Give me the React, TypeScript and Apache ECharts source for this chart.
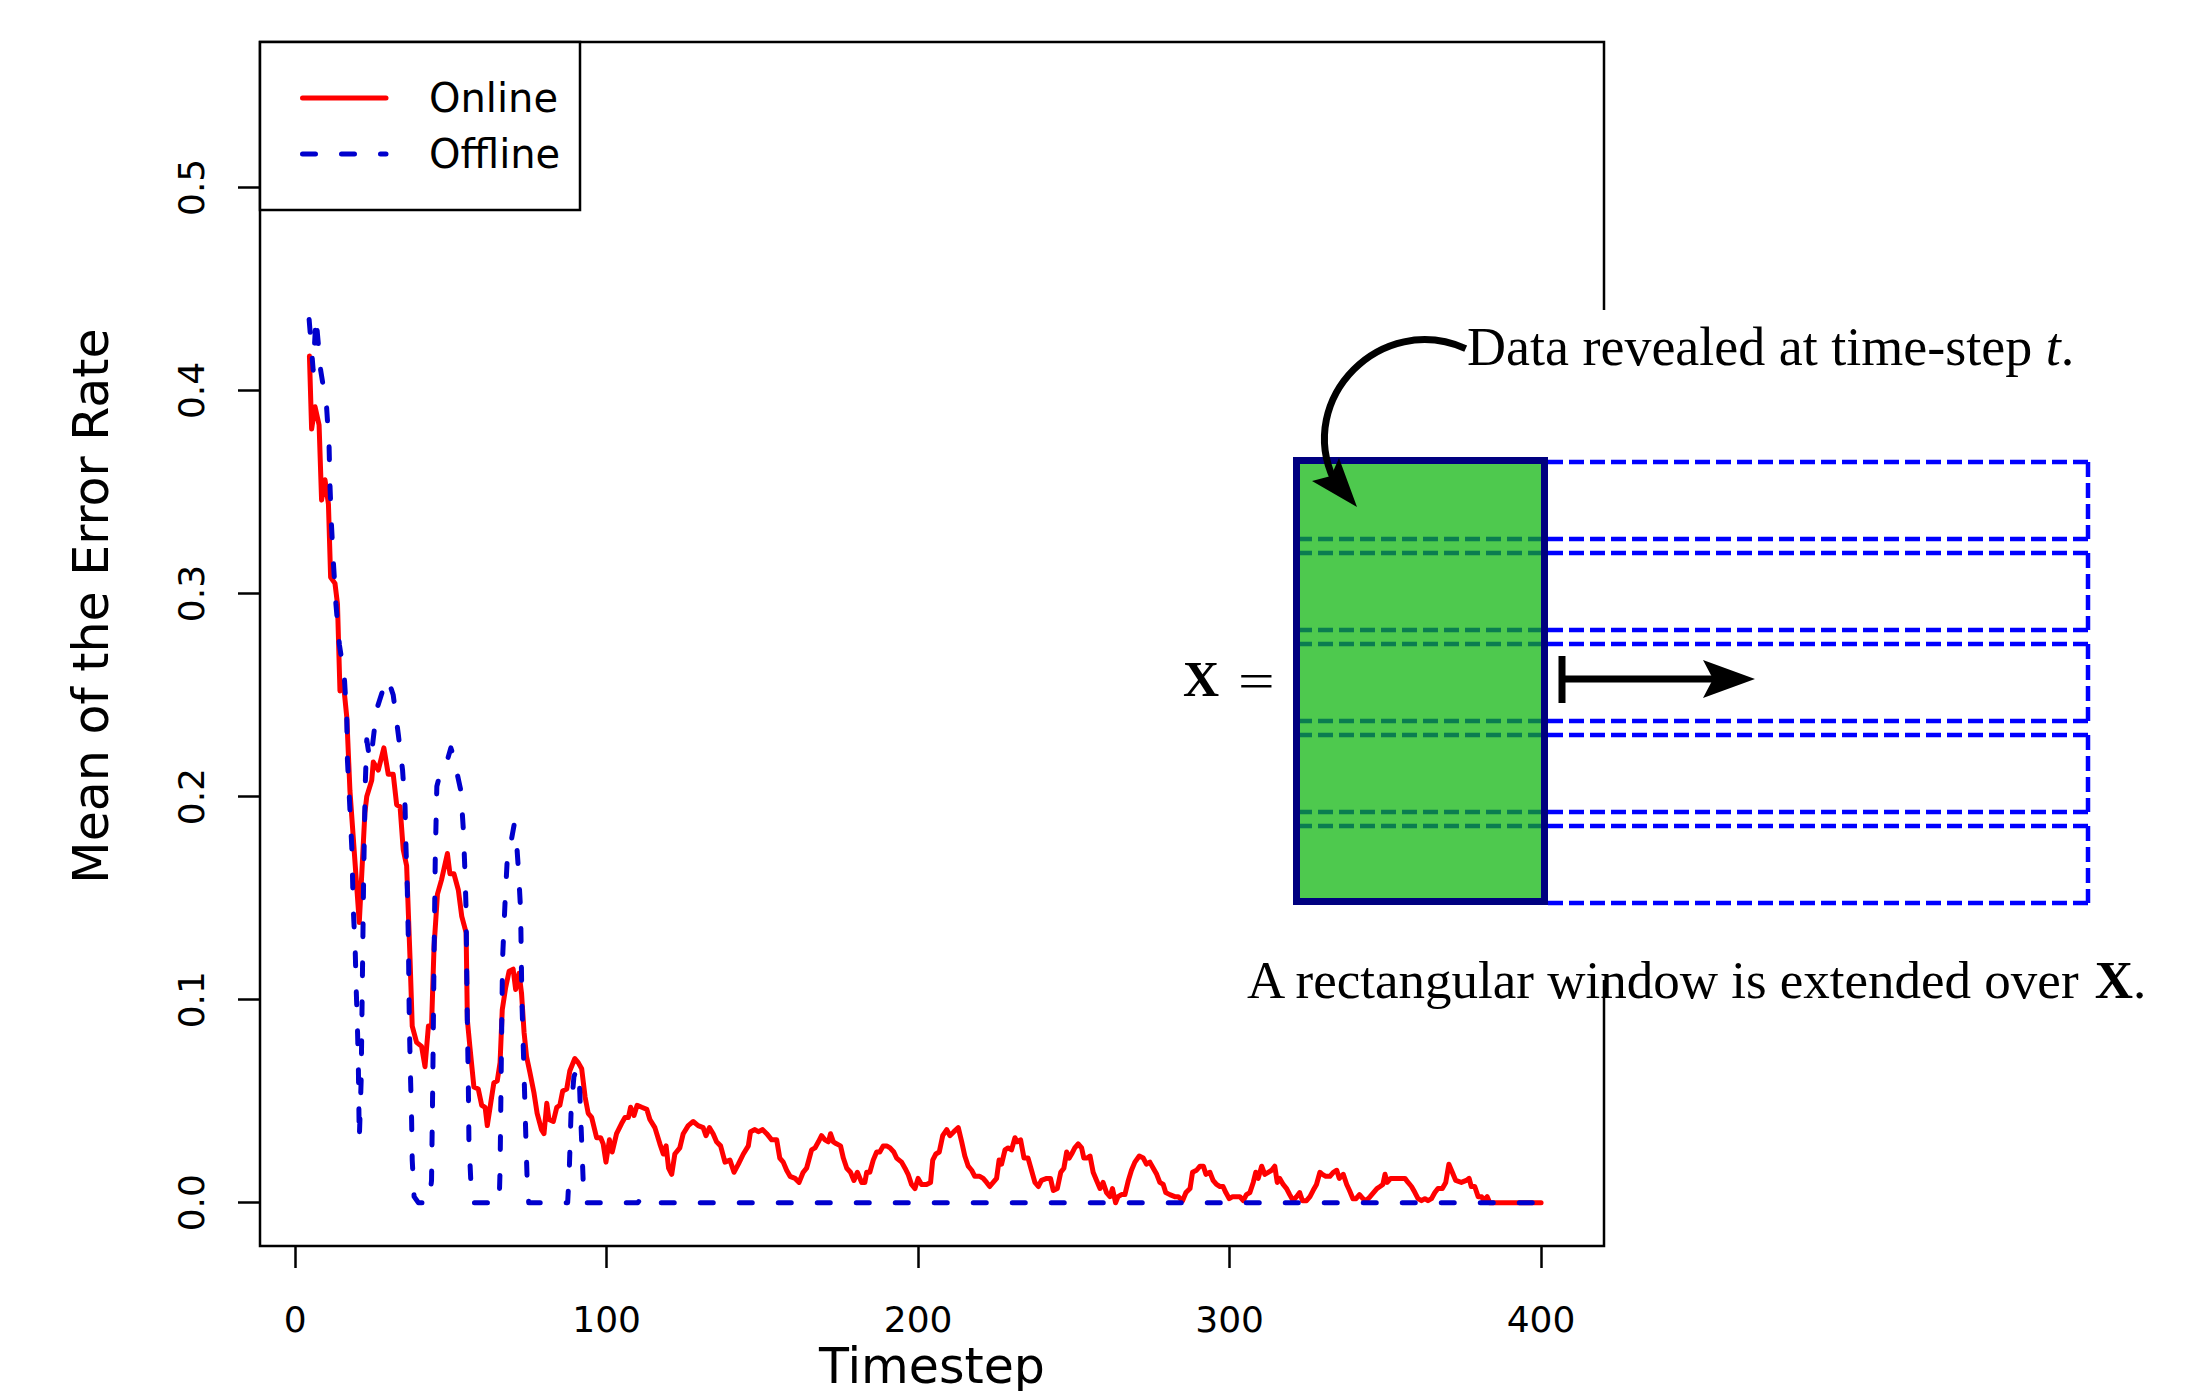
import React, { useEffect, useRef } from 'react';
import * as echarts from 'echarts';

const xTicks = [0, 100, 200, 300, 400];
const yTicks = [0, 0.1, 0.2, 0.3, 0.4, 0.5];
const seriesNames = ['Online', 'Offline'];
const xTitle = 'Timestep';
const yTitle = 'Mean of the Error Rate';

const online: [number, number][] = [
  [4.6, 0.417], [5.3, 0.381], [6.4, 0.392], [7.7, 0.383], [8.5, 0.346], [9.6, 0.356], [10.7, 0.344],
  [11.4, 0.308], [12.8, 0.305], [13.6, 0.295], [14.4, 0.252], [15.5, 0.256], [16.6, 0.239], [17.6, 0.203],
  [20.6, 0.138], [22.4, 0.192], [23.0, 0.2], [24.6, 0.208], [25.1, 0.217], [26.7, 0.213], [28.5, 0.224],
  [29.9, 0.211], [31.5, 0.211], [32.6, 0.196], [33.7, 0.195], [34.7, 0.174], [35.8, 0.166], [36.9, 0.12],
  [37.6, 0.087], [39.0, 0.079], [40.6, 0.077], [41.7, 0.067], [42.8, 0.087], [43.8, 0.087], [44.6, 0.126],
  [45.7, 0.152], [47.0, 0.159], [48.9, 0.172], [49.7, 0.162], [51.0, 0.162], [52.4, 0.154], [53.5, 0.141],
  [54.9, 0.133], [55.3, 0.09], [56.1, 0.077], [57.4, 0.057], [58.8, 0.056], [59.9, 0.048], [61.0, 0.047],
  [61.7, 0.038], [62.8, 0.049], [63.8, 0.059], [64.9, 0.06], [65.8, 0.069], [66.5, 0.095], [67.6, 0.106],
  [68.7, 0.114], [70.0, 0.115], [70.8, 0.105], [71.9, 0.113], [72.7, 0.103], [73.5, 0.084], [74.3, 0.072],
  [75.4, 0.064], [76.7, 0.054], [77.7, 0.044], [79.1, 0.036], [79.9, 0.034], [80.8, 0.049], [81.5, 0.041],
  [82.9, 0.04], [84.0, 0.047], [85.0, 0.048], [85.9, 0.055], [87.2, 0.056], [88.2, 0.065], [89.8, 0.071],
  [90.9, 0.069], [92.0, 0.066], [93.1, 0.052], [94.1, 0.044], [95.2, 0.042], [96.8, 0.032], [98.1, 0.032],
  [98.9, 0.029], [99.8, 0.02], [100.9, 0.031], [101.8, 0.025], [103.2, 0.034], [104.8, 0.039], [105.9, 0.042],
  [107.0, 0.042], [107.7, 0.047], [108.8, 0.043], [109.8, 0.048], [111.3, 0.047], [112.9, 0.046], [113.9, 0.041],
  [115.5, 0.037], [117.1, 0.029], [118.2, 0.024], [119.1, 0.028], [119.9, 0.017], [120.9, 0.014], [121.9, 0.024],
  [123.5, 0.027], [124.6, 0.034], [126.2, 0.038], [127.8, 0.04], [129.4, 0.038], [131.0, 0.037], [131.9, 0.033],
  [133.0, 0.037], [134.2, 0.034], [135.3, 0.03], [136.6, 0.028], [138.0, 0.02], [139.6, 0.021], [140.9, 0.015],
  [142.3, 0.019], [143.9, 0.024], [145.5, 0.028], [146.2, 0.035], [147.6, 0.036], [148.7, 0.035], [150.1, 0.036],
  [151.4, 0.034], [153.0, 0.031], [154.6, 0.031], [155.6, 0.022], [156.7, 0.02], [157.8, 0.016], [158.9, 0.013],
  [160.5, 0.012], [161.8, 0.01], [163.1, 0.015], [164.2, 0.017], [165.8, 0.026], [166.9, 0.027], [168.0, 0.03],
  [169.0, 0.033], [170.1, 0.031], [171.2, 0.03], [171.9, 0.034], [172.8, 0.03], [173.8, 0.029], [175.1, 0.028],
  [176.0, 0.022], [177.1, 0.017], [178.3, 0.015], [179.4, 0.011], [180.5, 0.015], [181.9, 0.01], [182.9, 0.01],
  [183.5, 0.015], [184.5, 0.015], [185.6, 0.021], [186.7, 0.025], [187.7, 0.025], [188.8, 0.028], [189.9, 0.028],
  [191.0, 0.027], [192.2, 0.025], [193.1, 0.022], [194.7, 0.02], [195.8, 0.017], [196.8, 0.014], [197.9, 0.009],
  [199.0, 0.007], [200.0, 0.012], [201.1, 0.009], [202.7, 0.009], [204.0, 0.01], [204.7, 0.021], [205.7, 0.024],
  [206.8, 0.025], [207.9, 0.033], [209.2, 0.036], [210.2, 0.033], [211.5, 0.035], [212.9, 0.037], [214.0, 0.03],
  [215.0, 0.023], [216.1, 0.018], [217.2, 0.016], [218.2, 0.013], [219.8, 0.013], [220.9, 0.012], [222.0, 0.01],
  [223.0, 0.008], [224.1, 0.01], [225.2, 0.012], [226.0, 0.021], [226.8, 0.019], [227.9, 0.026], [228.9, 0.027],
  [230.0, 0.026], [231.1, 0.032], [231.8, 0.03], [232.9, 0.031], [234.0, 0.022], [235.3, 0.022], [236.4, 0.016],
  [237.5, 0.01], [238.6, 0.008], [239.6, 0.011], [241.3, 0.012], [242.5, 0.012], [243.4, 0.006], [244.7, 0.007],
  [245.8, 0.015], [246.8, 0.017], [247.7, 0.025], [248.5, 0.022], [249.3, 0.024], [250.3, 0.027], [251.4, 0.029],
  [252.5, 0.027], [253.2, 0.022], [254.3, 0.022], [255.2, 0.023], [256.2, 0.015], [257.3, 0.011], [258.4, 0.007],
  [259.4, 0.01], [260.5, 0.005], [261.6, 0.003], [262.4, 0.007], [263.4, 0.0], [264.2, 0.003], [265.3, 0.004],
  [266.4, 0.004], [267.5, 0.011], [268.5, 0.016], [269.6, 0.02], [271.0, 0.023], [272.3, 0.022], [273.3, 0.019],
  [274.4, 0.02], [275.5, 0.017], [276.6, 0.014], [277.6, 0.01], [278.7, 0.009], [279.5, 0.005], [280.8, 0.004],
  [282.4, 0.003], [283.5, 0.003], [284.9, 0.001], [286.0, 0.005], [287.3, 0.007], [288.1, 0.015], [289.4, 0.016],
  [290.5, 0.018], [291.6, 0.018], [292.4, 0.014], [293.7, 0.015], [294.7, 0.011], [295.8, 0.009], [296.9, 0.008],
  [297.9, 0.008], [298.8, 0.005], [299.9, 0.002], [301.0, 0.003], [302.3, 0.003], [303.3, 0.003], [304.4, 0.001],
  [305.4, 0.004], [306.5, 0.005], [307.6, 0.01], [308.4, 0.015], [309.2, 0.012], [310.3, 0.018], [311.3, 0.014],
  [312.4, 0.015], [313.5, 0.016], [314.5, 0.018], [315.3, 0.01], [316.1, 0.012], [317.2, 0.009], [318.3, 0.007],
  [319.3, 0.004], [320.4, 0.001], [321.5, 0.003], [322.5, 0.005], [323.4, 0.001], [324.7, 0.001], [325.8, 0.003],
  [326.8, 0.006], [327.9, 0.009], [329.0, 0.015], [329.8, 0.014], [330.9, 0.013], [332.2, 0.013], [333.3, 0.015],
  [334.4, 0.016], [335.2, 0.012], [336.5, 0.014], [337.6, 0.009], [338.5, 0.006], [339.6, 0.002], [340.6, 0.002],
  [341.7, 0.004], [342.8, 0.002], [343.8, 0.001], [345.1, 0.003], [346.2, 0.005], [347.3, 0.007], [348.3, 0.008],
  [349.2, 0.009], [349.9, 0.014], [350.6, 0.01], [351.7, 0.012], [353.1, 0.012], [354.7, 0.012], [356.3, 0.012],
  [357.3, 0.01], [358.4, 0.008], [359.5, 0.005], [360.5, 0.002], [361.6, 0.001], [362.7, 0.002], [363.7, 0.001],
  [364.8, 0.002], [365.9, 0.005], [366.9, 0.007], [368.3, 0.007], [369.4, 0.01], [370.4, 0.019], [371.5, 0.015],
  [372.6, 0.011], [374.4, 0.01], [376.0, 0.011], [376.9, 0.012], [377.6, 0.008], [378.7, 0.008], [379.8, 0.003],
  [380.9, 0.003], [381.6, 0.001], [382.7, 0.003], [383.5, 0.0], [400, 0.0],
];

const offline: [number, number][] = [
  [4.5, 0.435], [5.8, 0.41], [6.7, 0.436], [8.2, 0.41], [10.1, 0.392], [10.9, 0.373], [11.2, 0.353],
  [11.7, 0.333], [12.3, 0.315], [13.1, 0.295], [14.2, 0.275], [15.8, 0.259], [16.6, 0.238], [16.8, 0.218],
  [17.4, 0.2], [18.2, 0.175], [18.7, 0.144], [19.3, 0.124], [19.6, 0.106], [20.0, 0.087], [20.3, 0.068],
  [20.6, 0.031], [21.2, 0.06], [21.6, 0.11], [22.0, 0.16], [22.5, 0.205], [23.0, 0.228], [24.0, 0.218],
  [24.9, 0.226], [26.2, 0.243], [28.9, 0.256], [29.8, 0.258], [31.5, 0.25], [33.1, 0.231], [34.5, 0.213],
  [35.3, 0.195], [35.6, 0.175], [36.0, 0.156], [36.4, 0.126], [36.6, 0.097], [36.8, 0.079], [37.1, 0.059],
  [37.4, 0.041], [37.6, 0.021], [38.2, 0.003], [39.6, 0], [43.0, 0], [43.8, 0.011], [44.2, 0.06],
  [44.6, 0.12], [45.0, 0.17], [45.5, 0.205], [46.5, 0.211], [48.7, 0.217], [50.0, 0.224], [50.6, 0.221],
  [51.5, 0.215], [53.2, 0.203], [54.0, 0.184], [54.5, 0.164], [54.9, 0.144], [55.1, 0.113], [55.3, 0.088],
  [55.6, 0.06], [55.8, 0.031], [56.4, 0.011], [57.0, 0], [65.5, 0], [65.8, 0.016], [66.2, 0.07],
  [66.6, 0.12], [67.4, 0.148], [68.1, 0.169], [69.0, 0.175], [70.3, 0.186], [70.8, 0.184], [71.7, 0.164],
  [72.4, 0.144], [72.8, 0.1], [73.4, 0.069], [74.1, 0.031], [74.5, 0.011], [75.0, 0], [87.5, 0],
  [88.0, 0.015], [88.6, 0.045], [89.5, 0.062], [90.4, 0.066], [91.3, 0.058], [92.0, 0.03], [92.5, 0.01],
  [93.0, 0], [110, 0], [111, 0.002], [112, 0], [400, 0],
];

const annotationTop = 'Data revealed at time-step ';
const annotationBottom = 'A rectangular window is extended over ';

export default function App() {
  const ref = useRef<HTMLDivElement>(null);
  useEffect(() => {
    document.body.style.margin = '0';
    document.body.style.overflow = 'hidden';
    const chart = echarts.init(ref.current!, null, { renderer: 'svg' });
    const SANS = 'DejaVu Sans';
    const SERIF = '"Liberation Serif", "DejaVu Serif", serif';
    const RED = '#ff0000';
    const BLUE = '#0000cd';
    const Z = 100;

    const dashY = [462, 539, 553, 630, 644, 721, 735, 812, 826, 903];
    const innerY = [539, 553, 630, 644, 721, 735, 812, 826];
    const rightSegs = [[462, 539], [553, 630], [644, 721], [735, 812], [826, 903]];

    const graphics: any[] = [
      // white backdrop of the inset diagram
      { type: 'rect', z: Z, shape: { x: 1120, y: 310, width: 1073, height: 670 }, style: { fill: '#ffffff' } },
      // legend box
      { type: 'rect', z: Z, shape: { x: 260, y: 42, width: 320, height: 168 }, style: { fill: '#ffffff', stroke: '#000', lineWidth: 2.5 } },
      { type: 'line', z: Z + 1, shape: { x1: 302.5, y1: 98, x2: 386, y2: 98 }, style: { stroke: RED, lineWidth: 5, lineCap: 'round' } },
      { type: 'line', z: Z + 1, shape: { x1: 302.5, y1: 154, x2: 386, y2: 154 }, style: { stroke: BLUE, lineWidth: 5, lineCap: 'round', lineDash: [13, 26] } },
      { type: 'text', z: Z + 1, x: 429, y: 98, style: { text: seriesNames[0], font: `40px "${SANS}"`, fill: '#000', align: 'left', verticalAlign: 'middle', textAlign: 'left', textVerticalAlign: 'middle' } },
      { type: 'text', z: Z + 1, x: 429, y: 154, style: { text: seriesNames[1], font: `40px "${SANS}"`, fill: '#000', align: 'left', verticalAlign: 'middle', textAlign: 'left', textVerticalAlign: 'middle' } },
      // axis titles
      { type: 'text', z: Z, x: 91, y: 606, rotation: Math.PI / 2, style: { text: yTitle, font: `49px "${SANS}"`, fill: '#000', align: 'center', verticalAlign: 'middle', textAlign: 'center', textVerticalAlign: 'middle' } },
      { type: 'text', z: Z, x: 932, y: 1366, style: { text: xTitle, font: `49px "${SANS}"`, lineHeight: 46, fill: '#000', align: 'center', verticalAlign: 'middle', textAlign: 'center', textVerticalAlign: 'middle' } },
      // green window fill
      { type: 'rect', z: Z + 1, shape: { x: 1296.5, y: 460.5, width: 248, height: 441 }, style: { fill: '#4ec94e' } },
    ];
    innerY.forEach((y) => {
      graphics.push({ type: 'line', z: Z + 2, shape: { x1: 1297, y1: y, x2: 1544, y2: y }, style: { stroke: '#0b7d50', lineWidth: 4.5, lineDash: [15, 6] } });
    });
    dashY.forEach((y) => {
      graphics.push({ type: 'line', z: Z + 2, shape: { x1: 1548, y1: y, x2: 2090, y2: y }, style: { stroke: '#0000ff', lineWidth: 4.5, lineDash: [15, 6] } });
    });
    rightSegs.forEach(([a, b]) => {
      graphics.push({ type: 'line', z: Z + 2, shape: { x1: 2088, y1: a, x2: 2088, y2: b }, style: { stroke: '#0000ff', lineWidth: 4.5, lineDash: [15, 6] } });
    });
    graphics.push(
      { type: 'rect', z: Z + 3, shape: { x: 1296.5, y: 460.5, width: 248, height: 441 }, style: { fill: 'none', stroke: '#000080', lineWidth: 7 } },
      // curved arrow
      { type: 'bezierCurve', z: Z + 4, shape: { x1: 1465.7, y1: 348.6, cpx1: 1381.2, cpy1: 311, cpx2: 1295.3, cpy2: 398.5, x2: 1334, y2: 480 }, style: { stroke: '#000', lineWidth: 7, fill: 'none' } },
      { type: 'polygon', z: Z + 4, shape: { points: [[1357, 507], [1312, 481], [1331, 476], [1339, 458]] }, style: { fill: '#000' } },
      // straight arrow
      { type: 'rect', z: Z + 4, shape: { x: 1558.5, y: 656, width: 7, height: 47 }, style: { fill: '#000' } },
      { type: 'line', z: Z + 4, shape: { x1: 1562, y1: 679, x2: 1715, y2: 679 }, style: { stroke: '#000', lineWidth: 7 } },
      { type: 'polygon', z: Z + 4, shape: { points: [[1755, 679], [1703, 660], [1713, 679], [1703, 698]] }, style: { fill: '#000' } },
      // texts
      {
        type: 'text', z: Z + 5, x: 1467, y: 347,
        style: {
          text: `{r|${annotationTop}}{i|t}{r|.}`,
          rich: { r: { font: `54px ${SERIF}`, fill: '#000' }, i: { font: `italic 54px ${SERIF}`, fill: '#000' } },
          align: 'left', verticalAlign: 'middle', textAlign: 'left', textVerticalAlign: 'middle',
        },
      },
      {
        type: 'text', z: Z + 5, x: 1247, y: 980,
        style: {
          text: `{r|${annotationBottom}}{b|X}{r|.}`,
          rich: { r: { font: `53px ${SERIF}`, fill: '#000' }, b: { font: `bold 53px ${SERIF}`, fill: '#000' } },
          align: 'left', verticalAlign: 'middle', textAlign: 'left', textVerticalAlign: 'middle',
        },
      },
      { type: 'text', z: Z + 5, x: 1183, y: 679, style: { text: 'X', font: `bold 50px ${SERIF}`, fill: '#000', align: 'left', verticalAlign: 'middle', textAlign: 'left', textVerticalAlign: 'middle' } },
      { type: 'text', z: Z + 5, x: 1238, y: 681, scaleX: 1.3, style: { text: '=', font: `50px ${SERIF}`, fill: '#000', align: 'left', verticalAlign: 'middle', textAlign: 'left', textVerticalAlign: 'middle' } },
    );

    chart.setOption({
      animation: false,
      backgroundColor: '#ffffff',
      grid: {
        left: 260, top: 42, width: 1344, height: 1204,
        show: true, borderColor: '#000', borderWidth: 2.5, backgroundColor: 'transparent',
        containLabel: false, outerBoundsMode: 'none',
      },
      xAxis: {
        type: 'value', min: -11.27, max: 420.2,
        axisLine: { show: false, onZero: false },
        splitLine: { show: false },
        axisTick: { show: true, customValues: xTicks, length: 22, inside: false, lineStyle: { color: '#000', width: 2.5 } },
        axisLabel: {
          show: true, customValues: xTicks, margin: 55, color: '#000', fontSize: 36, lineHeight: 36, fontFamily: SANS,
          formatter: (v: number) => String(v),
        },
      },
      yAxis: {
        type: 'value', min: -0.0213, max: 0.5716,
        axisLine: { show: false, onZero: false },
        splitLine: { show: false },
        axisTick: { show: true, customValues: yTicks, length: 22, inside: false, lineStyle: { color: '#000', width: 2.5 } },
        axisLabel: {
          show: true, customValues: yTicks, rotate: 90, margin: 51, color: '#000', fontSize: 36, fontFamily: SANS,
          formatter: (v: number) => v.toFixed(1),
        },
      },
      series: [
        {
          name: seriesNames[0], type: 'line', data: online, showSymbol: false, symbol: 'none',
          lineStyle: { color: RED, width: 5, cap: 'round', join: 'round' }, itemStyle: { color: RED }, z: 2,
        },
        {
          name: seriesNames[1], type: 'line', data: offline, showSymbol: false, symbol: 'none',
          lineStyle: { color: BLUE, width: 5, type: [13, 26], cap: 'round', join: 'round' }, itemStyle: { color: BLUE }, z: 3,
        },
      ],
      graphic: { elements: graphics },
    });
    return () => chart.dispose();
  }, []);
  return <div ref={ref} style={{ position: 'absolute', left: 0, top: 0, width: 2193, height: 1391, background: '#fff' }} />;
}
